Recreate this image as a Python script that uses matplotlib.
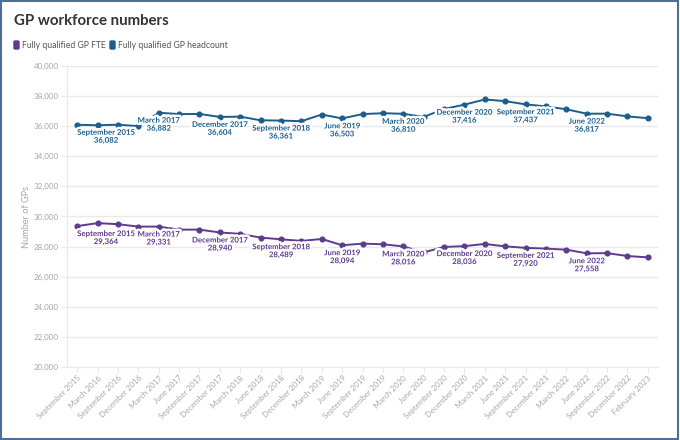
import matplotlib
matplotlib.use('Agg')
import matplotlib.pyplot as plt
import matplotlib.patheffects as pe
from matplotlib.patches import FancyBboxPatch, Rectangle

plt.rcParams['font.family'] = ['Lato', 'DejaVu Sans']

# Quarter labels along the x axis
quarters = ['September 2015', 'March 2016', 'September 2016', 'December 2016', 'March 2017',
            'June 2017', 'September 2017', 'December 2017', 'March 2018', 'June 2018',
            'September 2018', 'December 2018', 'March 2019', 'June 2019', 'September 2019',
            'December 2019', 'March 2020', 'June 2020', 'September 2020', 'December 2020',
            'March 2021', 'June 2021', 'September 2021', 'December 2021', 'March 2022',
            'June 2022', 'September 2022', 'December 2022', 'February 2023']

headcount = [36082, 36050, 36090, 35990, 36882, 36790, 36800, 36604, 36620, 36380,
             36361, 36320, 36760, 36503, 36790, 36850, 36810, 36600, 37130, 37416,
             37760, 37650, 37437, 37300, 37110, 36817, 36820, 36640, 36520]

fte = [29364, 29560, 29490, 29330, 29331, 29130, 29130, 28940, 28850, 28600,
       28489, 28380, 28510, 28094, 28200, 28160, 28016, 27620, 27980, 28036,
       28180, 28020, 27920, 27870, 27800, 27558, 27570, 27380, 27290]

# points that carry a data label
labelled = [0, 4, 7, 10, 13, 16, 19, 22, 25]

blue = '#1b5e8e'
purple = '#5e3b8f'
grey_txt = '#a6a6a6'
grid_col = '#e9e9e9'

fig = plt.figure(figsize=(6.8, 4.4), dpi=100)
ax = fig.add_axes([67 / 680, 1 - 367.3 / 440, 591 / 680, 301.6 / 440])

x = list(range(len(quarters)))
ax.plot(x, headcount, color=blue, lw=1.4, marker='o', ms=3.4, zorder=3)
ax.plot(x, fte, color=purple, lw=1.4, marker='o', ms=3.4, zorder=3)

halo = [pe.withStroke(linewidth=3.5, foreground='white')]
for series, col in ((headcount, blue), (fte, purple)):
    for i in labelled:
        ha = 'left' if i == 0 else 'center'
        ax.annotate(f'{quarters[i]}\n{series[i]:,}', (i, series[i]), xytext=(0, -4),
                    textcoords='offset pixels', ha=ha, va='top', fontsize=5.6,
                    fontweight='bold', color=col, linespacing=1.15,
                    path_effects=halo, zorder=4, multialignment='center')

ax.set_xlim(-0.5, 28.5)
ax.set_ylim(20000, 40000)
ax.set_yticks(range(20000, 40001, 2000))
ax.set_yticklabels([f'{v:,}' for v in range(20000, 40001, 2000)])
ax.set_xticks(x)
ax.set_xticklabels(quarters, rotation=45, ha='right', rotation_mode='anchor')
ax.grid(axis='y', color=grid_col, lw=1)
ax.set_axisbelow(True)
for s in ('top', 'right'):
    ax.spines[s].set_visible(False)
ax.spines['left'].set_color(grid_col)
ax.spines['bottom'].set_color(grid_col)
ax.tick_params(axis='y', colors=grid_col, labelcolor=grey_txt, labelsize=5.8, length=4, pad=2)
ax.tick_params(axis='x', colors=grid_col, labelcolor=grey_txt, labelsize=5.7, length=4, pad=1)
ax.set_ylabel('Number of GPs', color=grey_txt, fontsize=6.6, labelpad=2)

fig.text(14 / 680, 1 - 21 / 440, 'GP workforce numbers', fontsize=10.8, fontweight='bold',
         color='#333333', va='center')

# legend drawn by hand to match the compact swatches
leg_y = 1 - 45 / 440
fig.patches.append(FancyBboxPatch((14 / 680, leg_y - 4 / 440), 5 / 680, 8 / 440,
                                  boxstyle='round,pad=0,rounding_size=0.002',
                                  transform=fig.transFigure, color=purple))
fig.text(22 / 680, leg_y, 'Fully qualified GP FTE', fontsize=6.2, color='#555555', va='center')
fig.patches.append(FancyBboxPatch((110 / 680, leg_y - 4 / 440), 5 / 680, 8 / 440,
                                  boxstyle='round,pad=0,rounding_size=0.002',
                                  transform=fig.transFigure, color=blue))
fig.text(118 / 680, leg_y, 'Fully qualified GP headcount', fontsize=6.2, color='#555555', va='center')

fig.patches.append(Rectangle((0.002, 0.003), 0.995, 0.994, transform=fig.transFigure,
                             fill=False, edgecolor='#4f6f99', lw=1.5))

fig.savefig('out.png', dpi=100)
